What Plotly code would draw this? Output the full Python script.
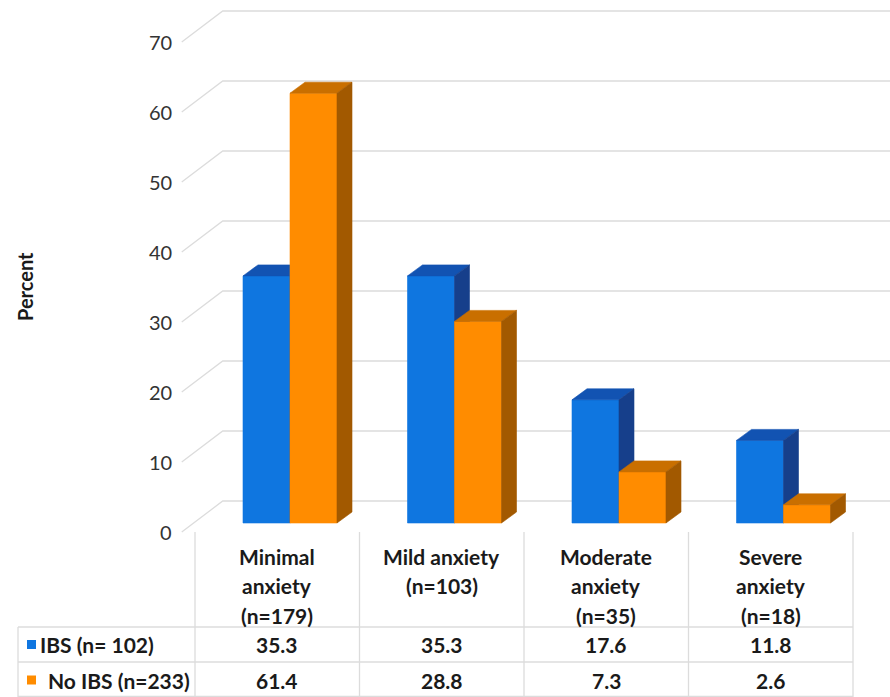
import plotly.graph_objects as go

# ---- data ----
categories = ["Minimal<br>anxiety<br>(n=179)", "Mild anxiety<br>(n=103)",
              "Moderate<br>anxiety<br>(n=35)", "Severe<br>anxiety<br>(n=18)"]
series_names = ["IBS (n= 102)", "No IBS (n=233)"]
ibs = [35.3, 35.3, 17.6, 11.8]
no_ibs = [61.4, 28.8, 7.3, 2.6]
y_ticks = [0, 10, 20, 30, 40, 50, 60, 70]

# ---- styling / geometry (pixels of the 890x697 canvas) ----
W, H = 890, 697
CAT_PX = 164.5          # width of one category column
CAT0_PX = 277           # centre of first category column
BASE_PX = 523           # pixel row of value 0 on the bar front plane
VAL_PX = 7.0            # pixels per percent
BAR_W = 47              # bar front width
BAR_SHIFT = (13, 9)     # bar front plane relative to floor front edge
BAR_DEPTH = (15, 11)    # bar depth
FLOOR_DEPTH = (41, 31)  # floor / side wall depth

FACE = {
    0: dict(front="#0F76E0", top="#1253B2", side="#163F8B"),
    1: dict(front="#FF8C00", top="#C96F00", side="#A25900"),
}
GRID = "#dcdcdc"
FONT = "Lato"
TXT = "#1a1a1a"

def dx(px):
    return px / CAT_PX

def dy(px):
    return px / VAL_PX

def paper_x(px):
    return px / W

def paper_y(py):
    return 1 - py / H

series_vals = [ibs, no_ibs]
faces = {(s, f): ([], []) for s in (0, 1) for f in ("front", "top", "side")}

def add_poly(key, pts):
    xs, ys = faces[key]
    for x, y in pts:
        xs.append(x)
        ys.append(y)
    xs.append(pts[0][0]); ys.append(pts[0][1])
    xs.append(None); ys.append(None)

bw = dx(BAR_W)
ddx, ddy = dx(BAR_DEPTH[0]), dy(BAR_DEPTH[1])
shift = dx(BAR_SHIFT[0])
for i in range(len(categories)):
    for s in (0, 1):
        v = series_vals[s][i]
        x0 = i + shift + (s - 1) * bw
        x1 = x0 + bw
        add_poly((s, "front"), [(x0, 0), (x1, 0), (x1, v), (x0, v)])
        add_poly((s, "top"), [(x0, v), (x1, v), (x1 + ddx, v + ddy), (x0 + ddx, v + ddy)])
        add_poly((s, "side"), [(x1, 0), (x1 + ddx, ddy), (x1 + ddx, v + ddy), (x1, v)])

fig = go.Figure()
for s in (0, 1):
    for f in ("front", "top", "side"):
        xs, ys = faces[(s, f)]
        col = FACE[s][f]
        fig.add_trace(go.Scatter(
            x=xs, y=ys, mode="lines", fill="toself", fillcolor=col,
            line=dict(color=col, width=0.6), hoverinfo="skip",
            name=series_names[s], showlegend=False))

# ---- gridlines: left side wall diagonals and back wall ----
floor_front_y = -dy(BAR_SHIFT[1])
back_y = floor_front_y + dy(FLOOR_DEPTH[1])
left_front_x = -0.5 - shift
left_back_x = left_front_x + dx(FLOOR_DEPTH[0])
right_x = dx(W - CAT0_PX) + 0.1
shapes = []
for t in y_ticks:
    shapes.append(dict(
        type="path", xref="x", yref="y", layer="below",
        path=f"M {left_front_x} {t + floor_front_y} L {left_back_x} {t + back_y} L {right_x} {t + back_y}",
        line=dict(color=GRID, width=1.3)))

# ---- data table below the plot ----
col_edges_px = [195 + CAT_PX * k for k in range(len(categories) + 1)]
table_top, row1, row2, table_bot = 532, 627, 662, 697
for xp in col_edges_px:
    shapes.append(dict(type="line", xref="paper", yref="paper",
                       x0=paper_x(xp), x1=paper_x(xp),
                       y0=paper_y(table_top), y1=paper_y(table_bot),
                       line=dict(color=GRID, width=1.3)))
for yp in (row1, row2, table_bot - 0.5):
    shapes.append(dict(type="line", xref="paper", yref="paper",
                       x0=paper_x(18), x1=paper_x(col_edges_px[-1]),
                       y0=paper_y(yp), y1=paper_y(yp),
                       line=dict(color=GRID, width=1.3)))
shapes.append(dict(type="line", xref="paper", yref="paper",
                   x0=paper_x(18), x1=paper_x(18),
                   y0=paper_y(row1), y1=paper_y(table_bot),
                   line=dict(color=GRID, width=1.3)))

annotations = []
# y tick labels at the front of the side wall
for t in y_ticks:
    annotations.append(dict(
        x=paper_x(174), y=t + floor_front_y, xref="paper", yref="y",
        text=str(t), showarrow=False, xanchor="right", yanchor="middle",
        font=dict(family=FONT, size=20, color="#333333")))

annotations.append(dict(
    x=paper_x(25), y=paper_y(287), xref="paper", yref="paper",
    text="<b>Percent</b>", textangle=-90, showarrow=False,
    xanchor="center", yanchor="middle",
    font=dict(family=FONT, size=20, color=TXT)))

LINE_H = 29.5
for i, cat in enumerate(categories):
    cx = paper_x(CAT0_PX + CAT_PX * i)
    for k, line in enumerate(cat.split("<br>")):
        annotations.append(dict(
            x=cx, y=paper_y(556 + LINE_H * k), xref="paper", yref="paper",
            text=f"<b>{line}</b>", showarrow=False,
            xanchor="center", yanchor="middle",
            font=dict(family=FONT, size=21, color=TXT)))

row_centres = [644.5, 680]
row_text_x = [38, 46]
for s in (0, 1):
    yc = row_centres[s]
    shapes.append(dict(type="rect", xref="paper", yref="paper",
                       x0=paper_x(27), x1=paper_x(36),
                       y0=paper_y(yc + 4.5), y1=paper_y(yc - 4.5),
                       fillcolor=FACE[s]["front"], line=dict(width=0)))
    annotations.append(dict(
        x=paper_x(row_text_x[s]), y=paper_y(yc), xref="paper", yref="paper",
        text=f"<b>{series_names[s]}</b>", showarrow=False,
        xanchor="left", yanchor="middle",
        font=dict(family=FONT, size=21, color=TXT)))
    for i, v in enumerate(series_vals[s]):
        annotations.append(dict(
            x=paper_x(CAT0_PX + CAT_PX * i), y=paper_y(yc), xref="paper", yref="paper",
            text=f"<b>{v}</b>", showarrow=False,
            xanchor="center", yanchor="middle",
            font=dict(family=FONT, size=21, color=TXT)))

fig.update_layout(
    width=W, height=H, margin=dict(l=0, r=0, t=0, b=0),
    paper_bgcolor="white", plot_bgcolor="white",
    xaxis=dict(range=[dx(-CAT0_PX), dx(W - CAT0_PX)], visible=False, fixedrange=True),
    yaxis=dict(range=[dy(BASE_PX - H), dy(BASE_PX)], visible=False, fixedrange=True),
    shapes=shapes, annotations=annotations, showlegend=False,
)

fig.write_html("out.html")
